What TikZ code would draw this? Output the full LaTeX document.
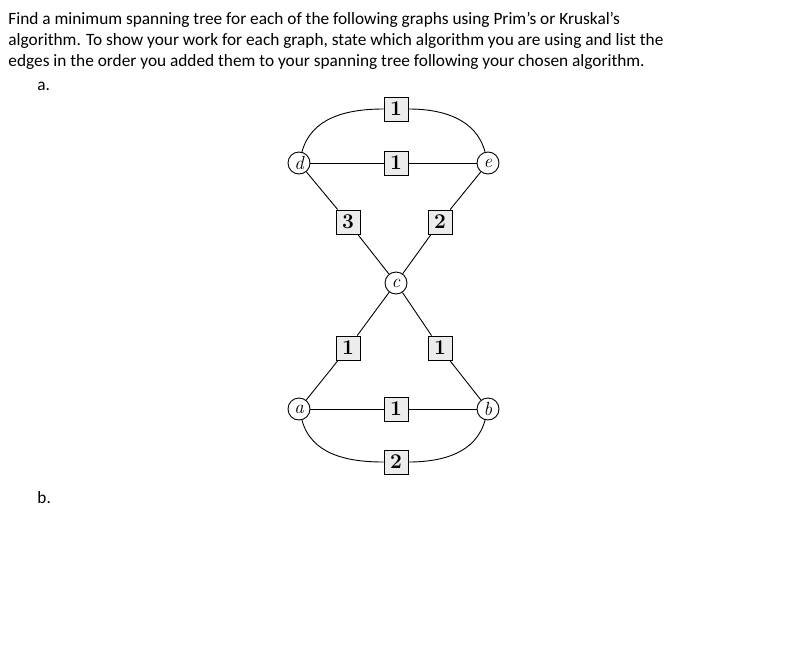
\documentclass[tikz,border=0pt]{standalone}
\usepackage{fontspec}
\setmainfont{Carlito}
\newfontfamily\lm{Latin Modern Roman}
\begin{document}
\begin{tikzpicture}[x=1pt,y=-1pt,line width=0.9pt,
  vert/.style={circle,draw,fill=white,inner sep=0pt,minimum size=22pt,font=\fontsize{19}{19}\selectfont\lm\itshape},
  wt/.style={rectangle,draw,fill=gray!15,inner sep=0pt,minimum size=24pt,font=\fontsize{21}{21}\selectfont\lm\bfseries},
  txt/.style={anchor=west,inner sep=0pt,font=\fontsize{17.3}{20}\selectfont}]
\useasboundingbox (0,0) rectangle (805,648);
\node[txt] (t1) at (8,20) {Find a minimum spanning tree for each of the following graphs using Prim’s or Kruskal’s};
\node[txt] (t2) at (8,41) {algorithm. To show your work for each graph, state which algorithm you are using and list the};
\node[txt] (t3) at (8,62) {edges in the order you added them to your spanning tree following your chosen algorithm.};
\node[txt] (la) at (37,86) {a.};
\node[txt] (lb) at (37,498) {b.};
\node[vert] (d) at (299,163) {d};
\node[vert] (e) at (488,163) {e};
\node[vert] (c) at (396,283) {c};
\node[vert] (a) at (299,409) {a};
\node[vert] (b) at (488,409) {b};
\node[wt] (w1) at (396,109) {1};
\node[wt] (w2) at (396,163) {1};
\node[wt] (w3) at (348,222) {3};
\node[wt] (w4) at (440,222) {2};
\node[wt] (w5) at (348,348) {1};
\node[wt] (w6) at (440,348) {1};
\node[wt] (w7) at (396,409) {1};
\node[wt] (w8) at (396,462) {2};
\draw (d) to[out=75,in=180] (w1) to[out=0,in=105] (e);
\draw (d) -- (w2) -- (e);
\draw (d) -- (w3) -- (c);
\draw (e) -- (w4) -- (c);
\draw (c) -- (w5) -- (a);
\draw (c) -- (w6) -- (b);
\draw (a) -- (w7) -- (b);
\draw (a) to[out=-75,in=180] (w8) to[out=0,in=-105] (b);
\end{tikzpicture}
\end{document}
